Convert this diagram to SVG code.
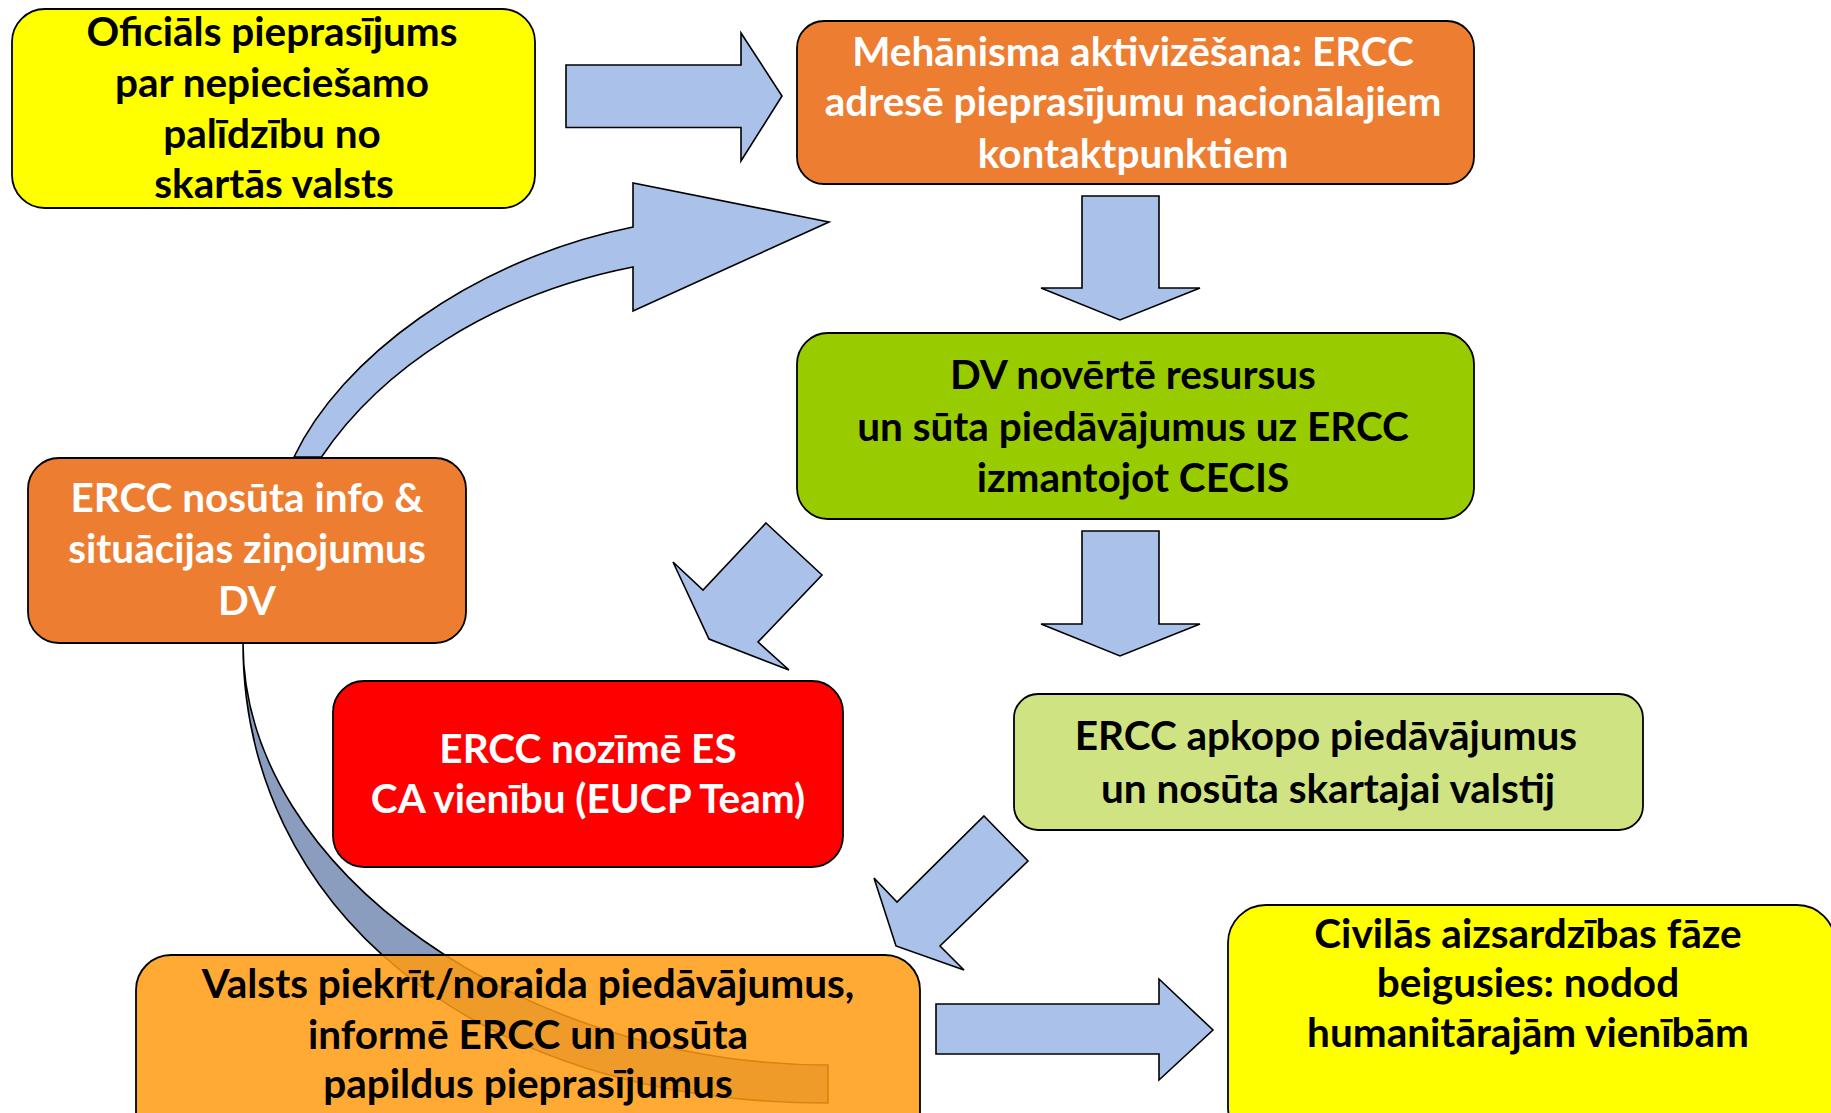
<svg xmlns="http://www.w3.org/2000/svg" width="1831" height="1113" viewBox="0 0 1831 1113">
<style>
.box{stroke:#000;stroke-width:1.8}
.arr{fill:#AAC1E9;stroke:#000;stroke-width:1.6;stroke-linejoin:miter}
.band{fill:#8B9DBE;stroke:#000;stroke-width:1.6}
text{font-family:Lato,"Open Sans","Liberation Sans",sans-serif;font-weight:700;font-size:40.5px;text-anchor:middle}
.w{fill:#fff}
.k{fill:#000}
</style>
<rect width="1831" height="1113" fill="#fff"/>
<g id="connectors">
<polygon class="arr" points="566,65 741,65 741,33 782,96 741,161 741,127.5 566,127.5"/>
<polygon class="arr" points="1082,196 1159,196 1159,288 1200,288 1120,320 1041,288 1082,288"/>
<polygon class="arr" points="1082,531 1159,531 1159,624 1200,624 1120,656 1041,624 1082,624"/>
<polygon class="arr" points="936,1004 1159,1004 1159,979 1213,1030 1159,1080 1159,1054 936,1054"/>
<polygon class="arr" points="766,523 822,575 758,642 789,670 709,639 673,562 703,590"/>
<polygon class="arr" points="984,816 1028,861 940,946 964,970 896,946 874,878 897,902"/>
<path class="arr" d="M294,457 C340,360 470,260 633,227 L633,183 L829,222 L633,311 L633,267 C490,295 380,370 321.5,457 Z"/>
<path class="band" d="M243,643 C243,903 468,1103 828,1103 L828,1065 C528,1065 243,873 243,643 Z"/>
</g>
<g id="n1">
<rect class="box" x="12" y="9" width="523" height="199" rx="33" fill="#FFFF00"/>
<text class="k" x="272" y="46">Oficiāls pieprasījums</text>
<text class="k" x="272" y="97">par nepieciešamo</text>
<text class="k" x="272" y="148">palīdzību no</text>
<text class="k" x="274" y="198">skartās valsts</text>
</g>
<g id="n2">
<rect class="box" x="797" y="21" width="677" height="163" rx="27" fill="#ED7D31"/>
<text class="w" x="1133" y="66">Mehānisma aktivizēšana: ERCC</text>
<text class="w" x="1133" y="116">adresē pieprasījumu nacionālajiem</text>
<text class="w" x="1133" y="168">kontaktpunktiem</text>
</g>
<g id="n3">
<rect class="box" x="797" y="333" width="677" height="186" rx="31" fill="#99CC00"/>
<text class="k" x="1133" y="389">DV novērtē resursus</text>
<text class="k" x="1133" y="441">un sūta piedāvājumus uz ERCC</text>
<text class="k" x="1133" y="492">izmantojot CECIS</text>
</g>
<g id="n4">
<rect class="box" x="28" y="458" width="438" height="185" rx="31" fill="#ED7D31"/>
<text class="w" x="247" y="512">ERCC nosūta info &amp;</text>
<text class="w" x="247" y="563">situācijas ziņojumus</text>
<text class="w" x="247" y="615">DV</text>
</g>
<g id="n5">
<rect class="box" x="333" y="681" width="510" height="186" rx="31" fill="#FF0000"/>
<text class="w" x="588" y="763">ERCC nozīmē ES</text>
<text class="w" x="588" y="813">CA vienību (EUCP Team)</text>
</g>
<g id="n6">
<rect class="box" x="1014" y="694" width="629" height="136" rx="24" fill="#CFE383"/>
<text class="k" x="1326" y="750">ERCC apkopo piedāvājumus</text>
<text class="k" x="1328" y="803">un nosūta skartajai valstij</text>
</g>
<g id="n7">
<rect x="136" y="955" width="784" height="200" rx="35" fill="#FF9B10" fill-opacity="0.85" stroke="#000" stroke-width="1.8"/>
<text class="k" x="528" y="998">Valsts piekrīt/noraida piedāvājumus,</text>
<text class="k" x="528" y="1049">informē ERCC un nosūta</text>
<text class="k" x="528" y="1098">papildus pieprasījumus</text>
</g>
<g id="n8">
<rect class="box" x="1228" y="905" width="607" height="240" rx="38" fill="#FFFF00"/>
<text class="k" x="1528" y="948">Civilās aizsardzības fāze</text>
<text class="k" x="1528" y="997">beigusies: nodod</text>
<text class="k" x="1528" y="1047">humanitārajām vienībām</text>
</g>
</svg>
